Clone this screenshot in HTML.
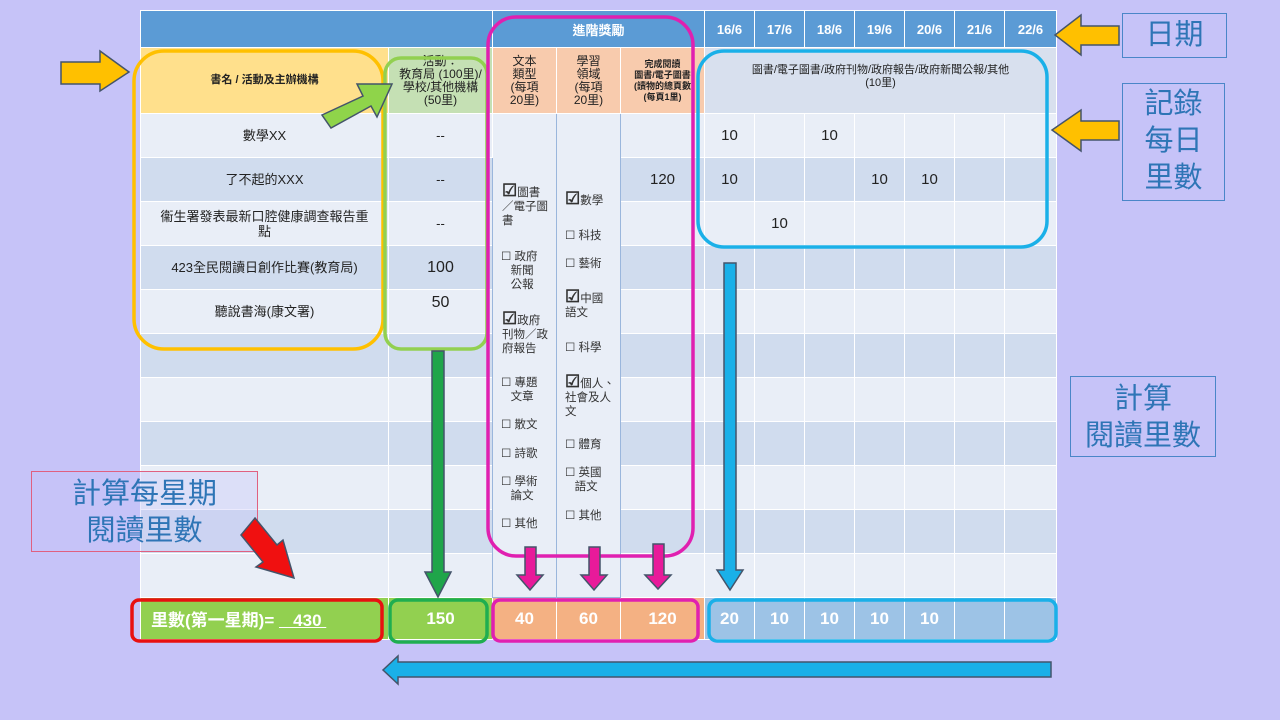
<!DOCTYPE html>
<html><head><meta charset="utf-8"><style>
body{margin:0;width:1280px;height:720px;background:#c6c3f8;position:relative;overflow:hidden;font-family:"Liberation Sans","Noto Sans CJK TC",sans-serif;}
table{position:absolute;left:140px;top:10px;border-collapse:collapse;table-layout:fixed;width:916px;}
td{border:1px solid #fff;padding:0;text-align:center;font-size:13px;color:#222;overflow:hidden;}
td>div{overflow:hidden;display:flex;flex-direction:column;justify-content:center;align-items:center;}
tr.h td{background:#5b9bd5;color:#fff;font-weight:bold;font-size:13px;}
tr.h td>div{height:36px;}
tr.s td{font-size:11px;line-height:13px;}
tr.s td>div{height:65px;}
tr.l td{background:#e9eef7;}
tr.d td{background:#d0dcee;}
tr.l td>div,tr.d td>div{height:43px;line-height:15px;}
tr.t td{color:#fff;font-size:17px;font-weight:bold;}
tr.t td>div{height:41px;}
td.m{background:#e9eef7 !important;border:1px solid #9ab6dc;}
.a{position:absolute;}
.ck{position:absolute;font-size:11.5px;line-height:14px;color:#333;}
.lab{position:absolute;border:1px solid #4a86c8;color:#2e75b6;font-size:29px;text-align:center;line-height:37px;}
</style></head><body>
<table>
<colgroup><col style="width:248px"><col style="width:104px"><col style="width:64px"><col style="width:64px"><col style="width:84px"><col style="width:50px"><col style="width:50px"><col style="width:50px"><col style="width:50px"><col style="width:50px"><col style="width:50px"><col style="width:52px"></colgroup>
<tr class="h"><td colspan="2"><div></div></td><td colspan="3"><div>進階獎勵</div></td><td><div>16/6</div></td><td><div>17/6</div></td><td><div>18/6</div></td><td><div>19/6</div></td><td><div>20/6</div></td><td><div>21/6</div></td><td><div>22/6</div></td></tr>
<tr class="s"><td style="background:#ffe08c;font-weight:bold"><div>書名 / 活動及主辦機構</div></td><td style="background:#c5e0b4;font-size:12px"><div style="line-height:13px">活動：<br>教育局 (100里)/<br>學校/其他機構<br>(50里)</div></td><td style="background:#f8cbad;font-size:12px"><div style="line-height:13px">文本<br>類型<br>(每項<br>20里)</div></td><td style="background:#f8cbad;font-size:12px"><div style="line-height:13px">學習<br>領域<br>(每項<br>20里)</div></td><td style="background:#f8cbad;font-size:9px;font-weight:bold"><div style="line-height:11px">完成閱讀<br>圖書/電子圖書<br>(讀物的總頁數<br>(每頁1里)</div></td><td colspan="7" style="background:#d8e0ee;font-size:11px"><div style="justify-content:flex-start;padding-top:16px;box-sizing:border-box">圖書/電子圖書/政府刊物/政府報告/政府新聞公報/其他<br>(10里)</div></td></tr>
<tr class="l"><td><div>數學XX</div></td><td><div>--</div></td><td class="m" rowspan="11"></td><td class="m" rowspan="11"></td><td><div></div></td><td style="font-size:15px"><div>10</div></td><td><div></div></td><td style="font-size:15px"><div>10</div></td><td><div></div></td><td><div></div></td><td><div></div></td><td><div></div></td></tr>
<tr class="d"><td><div>了不起的XXX</div></td><td><div>--</div></td><td style="font-size:15px"><div>120</div></td><td style="font-size:15px"><div>10</div></td><td><div></div></td><td><div></div></td><td style="font-size:15px"><div>10</div></td><td style="font-size:15px"><div>10</div></td><td><div></div></td><td><div></div></td></tr>
<tr class="l"><td><div>衞生署發表最新口腔健康調查報告重<br>點</div></td><td><div>--</div></td><td><div></div></td><td><div></div></td><td style="font-size:15px"><div>10</div></td><td><div></div></td><td><div></div></td><td><div></div></td><td><div></div></td><td><div></div></td></tr>
<tr class="d"><td><div>423全民閱讀日創作比賽(教育局)</div></td><td style="font-size:16px"><div>100</div></td><td><div></div></td><td><div></div></td><td><div></div></td><td><div></div></td><td><div></div></td><td><div></div></td><td><div></div></td><td><div></div></td></tr>
<tr class="l"><td><div>聽說書海(康文署)</div></td><td style="font-size:16px"><div style="justify-content:flex-start;padding-top:5px;box-sizing:border-box">50</div></td><td><div></div></td><td><div></div></td><td><div></div></td><td><div></div></td><td><div></div></td><td><div></div></td><td><div></div></td><td><div></div></td></tr>
<tr class="d"><td><div></div></td><td><div></div></td><td><div></div></td><td><div></div></td><td><div></div></td><td><div></div></td><td><div></div></td><td><div></div></td><td><div></div></td><td><div></div></td></tr>
<tr class="l"><td><div></div></td><td><div></div></td><td><div></div></td><td><div></div></td><td><div></div></td><td><div></div></td><td><div></div></td><td><div></div></td><td><div></div></td><td><div></div></td></tr>
<tr class="d"><td><div></div></td><td><div></div></td><td><div></div></td><td><div></div></td><td><div></div></td><td><div></div></td><td><div></div></td><td><div></div></td><td><div></div></td><td><div></div></td></tr>
<tr class="l"><td><div></div></td><td><div></div></td><td><div></div></td><td><div></div></td><td><div></div></td><td><div></div></td><td><div></div></td><td><div></div></td><td><div></div></td><td><div></div></td></tr>
<tr class="d"><td><div></div></td><td><div></div></td><td><div></div></td><td><div></div></td><td><div></div></td><td><div></div></td><td><div></div></td><td><div></div></td><td><div></div></td><td><div></div></td></tr>
<tr class="l"><td><div></div></td><td><div></div></td><td><div></div></td><td><div></div></td><td><div></div></td><td><div></div></td><td><div></div></td><td><div></div></td><td><div></div></td><td><div></div></td></tr>
<tr class="t"><td style="background:#92d050"><div style="align-items:flex-start;padding-left:10px;box-sizing:border-box"><span>里數(第一星期)= <span style="text-decoration:underline">&nbsp;&nbsp;&nbsp;430&nbsp;</span></span></div></td><td style="background:#92d050"><div>150</div></td><td style="background:#f4b183"><div>40</div></td><td style="background:#f4b183"><div>60</div></td><td style="background:#f4b183"><div>120</div></td><td style="background:#9dc3e6"><div>20</div></td><td style="background:#9dc3e6"><div>10</div></td><td style="background:#9dc3e6"><div>10</div></td><td style="background:#9dc3e6"><div>10</div></td><td style="background:#9dc3e6"><div>10</div></td><td style="background:#9dc3e6"><div></div></td><td style="background:#9dc3e6"><div></div></td></tr>
</table>

<div class="ck" style="left:502px;top:184px;width:52px"><b style="font-size:17px">☑</b>圖書<br>／電子圖<br>書</div>
<div class="ck" style="left:501px;top:250px;width:52px">☐ 政府<br>&nbsp;&nbsp;&nbsp;新聞<br>&nbsp;&nbsp;&nbsp;公報</div>
<div class="ck" style="left:502px;top:312px;width:52px"><b style="font-size:17px">☑</b>政府<br>刊物／政<br>府報告</div>
<div class="ck" style="left:501px;top:376px;width:52px">☐ 專題<br>&nbsp;&nbsp;&nbsp;文章</div>
<div class="ck" style="left:501px;top:418px">☐ 散文</div>
<div class="ck" style="left:501px;top:447px">☐ 詩歌</div>
<div class="ck" style="left:501px;top:475px">☐ 學術<br>&nbsp;&nbsp;&nbsp;論文</div>
<div class="ck" style="left:501px;top:517px">☐ 其他</div>
<div class="ck" style="left:565px;top:192px"><b style="font-size:17px">☑</b>數學</div>
<div class="ck" style="left:565px;top:229px">☐ 科技</div>
<div class="ck" style="left:565px;top:257px">☐ 藝術</div>
<div class="ck" style="left:565px;top:290px;width:55px"><b style="font-size:17px">☑</b>中國<br>語文</div>
<div class="ck" style="left:565px;top:341px">☐ 科學</div>
<div class="ck" style="left:565px;top:375px;width:58px"><b style="font-size:17px">☑</b>個人、<br>社會及人<br>文</div>
<div class="ck" style="left:565px;top:438px">☐ 體育</div>
<div class="ck" style="left:565px;top:466px">☐ 英國<br>&nbsp;&nbsp;&nbsp;語文</div>
<div class="ck" style="left:565px;top:509px">☐ 其他</div>

<div class="lab" style="left:1122px;top:13px;width:103px;height:43px;line-height:43px">日期</div>
<div class="lab" style="left:1122px;top:83px;width:103px;height:118px;line-height:37px;padding-top:2px;box-sizing:border-box">記錄<br>每日<br>里數</div>
<div class="lab" style="left:1070px;top:376px;width:146px;height:81px;padding-top:4px;box-sizing:border-box">計算<br>閱讀里數</div>
<div class="lab" style="left:31px;top:471px;width:227px;height:81px;border-color:#e06080;background:rgba(198,195,248,0.35);padding-top:4px;box-sizing:border-box">計算每星期<br>閱讀里數</div>

<svg class="a" style="left:0;top:0" width="1280" height="720">
<g fill="none" stroke-width="3.5">
<rect x="134" y="51" width="249" height="298" rx="30" stroke="#ffc000"/>
<rect x="385" y="58" width="102" height="291" rx="16" stroke="#92d050"/>
<rect x="488" y="17" width="205" height="539" rx="28" stroke="#e020b0"/>
<rect x="698" y="51" width="349" height="196" rx="26" stroke="#1ab0e8"/>
<rect x="132" y="600" width="250" height="41" rx="7" stroke="#e81010"/>
<rect x="390" y="600" width="97" height="42" rx="8" stroke="#1fae50"/>
<rect x="493" y="600" width="205" height="41" rx="7" stroke="#e020b0"/>
<rect x="709" y="600" width="347" height="41" rx="8" stroke="#1ab0e8"/>
</g>
<g stroke="#44546a" stroke-width="1.5">
<polygon fill="#ffc000" points="61,62 100,62 100,51 129,72 100,91 100,84 61,84"/>
<polygon fill="#ffc000" points="1119,26 1081,26 1081,15 1055,35 1081,55 1081,45 1119,45"/>
<polygon fill="#ffc000" points="1119,121 1081,121 1081,110 1052,130 1081,151 1081,140 1119,140"/>
<polygon fill="#8fd44a" points="322,115 363,96 357,84 392,84 377,117 371,106 331,128"/>
<polygon fill="#1fa54a" points="432,351 444,351 444,572 451,572 438,597 425,572 432,572"/>
<polygon fill="#1ab0e8" points="724,263 736,263 736,570 743,570 730,590 717,570 724,570"/>
<polygon fill="#e81a9a" points="525,547 536,547 536,575 543,575 530,590 517,575 525,575"/>
<polygon fill="#e81a9a" points="589,547 600,547 600,575 607,575 594,590 581,575 589,575"/>
<polygon fill="#e81a9a" points="653,544 664,544 664,575 671,575 658,589 645,575 653,575"/>
<polygon fill="#f01010" points="255,518 277,545 283,540 294,578 256,567 263,562 241,535"/>
<polygon fill="#1ab0e8" points="1051,662 1051,677 398,677 398,684 383,670 398,656 398,662"/>
</g>
</svg>
</body></html>
